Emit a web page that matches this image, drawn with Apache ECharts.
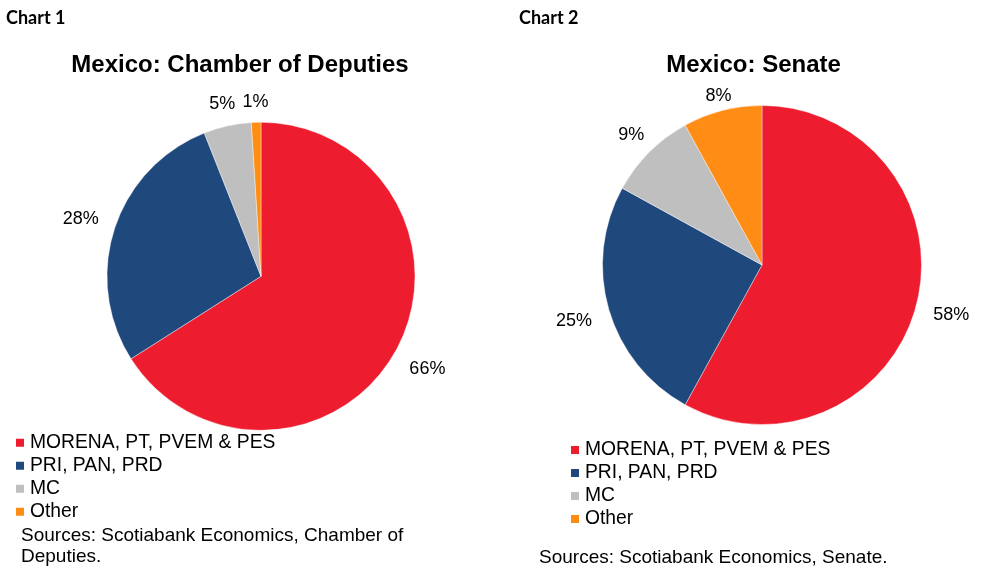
<!DOCTYPE html>
<html>
<head>
<meta charset="utf-8">
<script src="https://cdn.jsdelivr.net/npm/echarts@6/dist/echarts.min.js"></script>
<style>
html,body{margin:0;padding:0;background:#fff;}
#c{width:994px;height:579px;}
</style>
</head>
<body>
<div id="c"></div>
<script>
// ---- data ----
var categories = ['MORENA, PT, PVEM & PES', 'PRI, PAN, PRD', 'MC', 'Other'];
var deputiesValues = [66, 28, 5, 1];
var senateValues = [58, 25, 9, 8];
var colors = ['#ED1C2E', '#1F497D', '#BFBFBF', '#FF8C15'];
var chartLabels = ['Chart 1', 'Chart 2'];
var chartTitles = ['Mexico: Chamber of Deputies', 'Mexico: Senate'];
var sourceLines1 = ['Sources: Scotiabank Economics, Chamber of', 'Deputies.'];
var sourceLines2 = ['Sources: Scotiabank Economics, Senate.'];

var FONT = '"Liberation Sans", Arial, sans-serif';

function buildData(vals) {
  return categories.map(function (n, i) {
    return { name: n, value: vals[i], itemStyle: { color: colors[i] } };
  });
}

function makeLayout(vals, cx, cy, r, pad, k) {
  var total = vals.reduce(function (a, b) { return a + b; }, 0);
  return function (p) {
    var before = 0;
    for (var i = 0; i < p.dataIndex; i++) before += vals[i];
    var mid = (before + vals[p.dataIndex] / 2) / total * Math.PI * 2;
    var s = Math.sin(mid), c = Math.cos(mid);
    var w = p.labelRect.width, h = 18;
    var d = r + pad + k * (w / 2 * Math.abs(s) + h / 2 * Math.abs(c));
    return { x: cx + d * s, y: cy - d * c + 1, align: 'center', verticalAlign: 'middle' };
  };
}

var pie1 = { cx: 261, cy: 276.3, r: 154 };
var pie2 = { cx: 762, cy: 265, r: 159.5 };

function pieSeries(vals, geo, pad, k) {
  return {
    type: 'pie',
    center: [geo.cx, geo.cy],
    radius: geo.r,
    startAngle: 90,
    clockwise: true,
    data: buildData(vals),
    itemStyle: { borderColor: '#ffffff', borderWidth: 0.4 },
    label: {
      show: true,
      position: 'inside',
      formatter: '{c}%',
      fontFamily: FONT,
      fontSize: 18,
      color: '#000',
      overflow: 'none'
    },
    labelLine: { show: false },
    labelLayout: makeLayout(vals, geo.cx, geo.cy, geo.r, pad, k),
    emphasis: { disabled: true },
    silent: true
  };
}

function legendAt(left, top) {
  return {
    orient: 'vertical',
    left: left,
    top: top,
    icon: 'rect',
    itemWidth: 10,
    itemHeight: 10,
    itemGap: 3,
    padding: 0,
    selectedMode: false,
    data: categories,
    textStyle: { fontFamily: FONT, fontSize: 19.3, color: '#000', lineHeight: 20 }
  };
}

var graphics = [];
function addText(t, x, y, font, align) {
  graphics.push({
    type: 'text', silent: true,
    style: { text: t, x: x, y: y, font: font, fill: '#000', textAlign: align || 'left', textVerticalAlign: 'middle' }
  });
}
addText(chartLabels[0], 6, 18.5, 'bold 18px Lato, "Open Sans", sans-serif');
addText(chartLabels[1], 519, 18.5, 'bold 18px Lato, "Open Sans", sans-serif');
addText(chartTitles[0], 240, 65.5, 'bold 24px ' + FONT, 'center');
addText(chartTitles[1], 753.5, 65.5, 'bold 24px ' + FONT, 'center');
sourceLines1.forEach(function (t, i) { addText(t, 21, 536 + i * 20.7, '19px ' + FONT); });
sourceLines2.forEach(function (t, i) { addText(t, 539, 557.3 + i * 20.7, '19px ' + FONT); });

var chart = echarts.init(document.getElementById('c'));
chart.setOption({
  animation: false,
  backgroundColor: '#ffffff',
  legend: [legendAt(14, 432.7), legendAt(569, 440)],
  series: [
    pieSeries(deputiesValues, pie1, 7.9, 1.39),
    pieSeries(senateValues, pie2, -15.2, 2.6)
  ],
  graphic: graphics
});
</script>
</body>
</html>
